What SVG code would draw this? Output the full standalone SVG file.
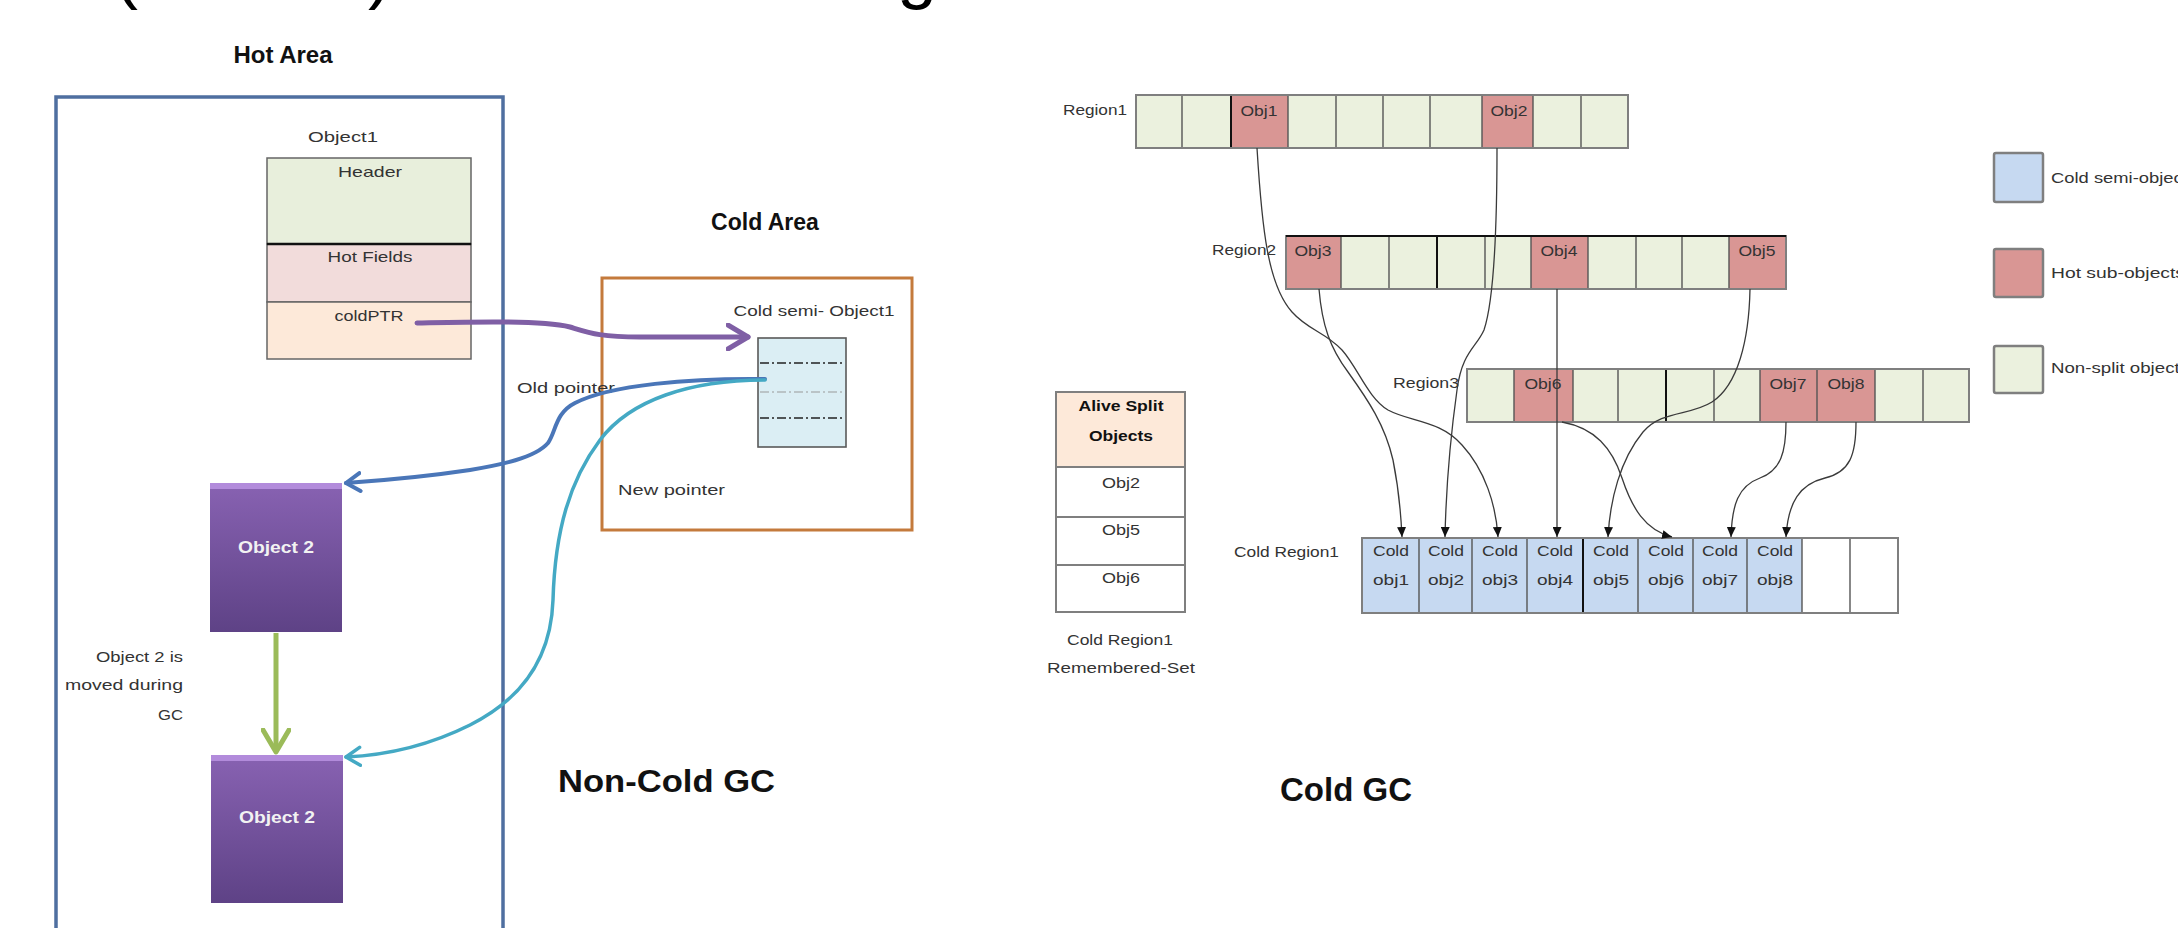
<svg xmlns="http://www.w3.org/2000/svg" width="2178" height="928" viewBox="0 0 2178 928">
<style>
  text { font-family: "Liberation Sans", Arial, sans-serif; fill: #333; }
  .s { font-size: 15px; }
  .sm { font-size: 15px; }
  .b { font-weight: bold; fill: #111; }
  .m { text-anchor: middle; }
  .e { text-anchor: end; }
  .cell { stroke: #555; stroke-width: 1.4; }
  .g { fill: #ebf1de; }
  .r { fill: #d99694; }
  .bl { fill: #c6d9f1; }
  .w { fill: #ffffff; }
  .conn { fill: none; stroke: #3a3a3a; stroke-width: 1.3; marker-end: url(#tri); }
  .lg { stroke: #7f7f7f; stroke-width: 2.5; }
  .obj2 { fill: url(#purp); }
  .otext { fill: #f2f2f2; font-weight: bold; font-size: 16px; text-anchor: middle; }
</style>
<defs>
  <marker id="tri" markerUnits="userSpaceOnUse" markerWidth="10" markerHeight="9" refX="10" refY="4.5" orient="auto">
    <path d="M0,0 L10,4.5 L0,9 z" fill="#111"/>
  </marker>
  <marker id="chevP" markerUnits="userSpaceOnUse" markerWidth="26" markerHeight="28" refX="22" refY="14" orient="auto">
    <path d="M2,2 L22,14 L2,26" fill="none" stroke="#7f5fa5" stroke-width="5" stroke-linecap="round" stroke-linejoin="round"/>
  </marker>
  <marker id="chevB" markerUnits="userSpaceOnUse" markerWidth="20" markerHeight="22" refX="16" refY="11" orient="auto">
    <path d="M2,2 L16,11 L2,20" fill="none" stroke="#4a76b8" stroke-width="4" stroke-linecap="round" stroke-linejoin="round"/>
  </marker>
  <marker id="chevT" markerUnits="userSpaceOnUse" markerWidth="20" markerHeight="22" refX="16" refY="11" orient="auto">
    <path d="M2,2 L16,11 L2,20" fill="none" stroke="#44a9c4" stroke-width="3.5" stroke-linecap="round" stroke-linejoin="round"/>
  </marker>
  <marker id="chevG" markerUnits="userSpaceOnUse" markerWidth="28" markerHeight="30" refX="24" refY="15" orient="auto">
    <path d="M2,2 L24,15 L2,28" fill="none" stroke="#9bbb59" stroke-width="5" stroke-linecap="round" stroke-linejoin="round"/>
  </marker>
  <linearGradient id="purp" x1="0" y1="0" x2="0" y2="1">
    <stop offset="0" stop-color="#8862b2"/>
    <stop offset="1" stop-color="#5e4286"/>
  </linearGradient>
</defs>

<rect width="2178" height="928" fill="#ffffff"/>

<!-- cut-off title fragments at the very top (only their lower parts are in frame) -->
<g id="title-fragment">
  <text x="114" y="-5" style="font-size:72px;fill:#000">(</text>
  <text x="368" y="-5" style="font-size:72px;fill:#000">)</text>
  <text x="897" y="-5" style="font-size:72px;fill:#000">g</text>
</g>

<!-- ============ LEFT: Non-Cold GC ============ -->
<g id="hot-area">
  <text class="b m" x="283" y="63" style="font-size:24px">Hot Area</text>
  <rect x="56" y="97" width="447" height="860" fill="none" stroke="#4f6fa0" stroke-width="3.5"/>
</g>

<g id="object1">
  <text class="s m" x="343" y="142" textLength="70" lengthAdjust="spacingAndGlyphs">Object1</text>
  <rect x="267" y="158" width="204" height="86" fill="#e8efdc" stroke="#666" stroke-width="1.5"/>
  <rect x="267" y="244" width="204" height="58" fill="#f2dcdb" stroke="#666" stroke-width="1.5"/>
  <rect x="267" y="302" width="204" height="57" fill="#fde9d9" stroke="#666" stroke-width="1.5"/>
  <line x1="267" y1="244" x2="471" y2="244" stroke="#111" stroke-width="2.5"/>
  <text class="s m" x="370" y="177" textLength="64" lengthAdjust="spacingAndGlyphs">Header</text>
  <text class="s m" x="370" y="262" textLength="85" lengthAdjust="spacingAndGlyphs">Hot Fields</text>
  <text class="s m" x="369" y="321" textLength="69" lengthAdjust="spacingAndGlyphs">coldPTR</text>
</g>

<g id="cold-area">
  <text class="b m" x="765" y="230" style="font-size:23px">Cold Area</text>
  <rect x="602" y="278" width="310" height="252" fill="none" stroke="#c47a3c" stroke-width="3"/>
  <text class="s m" x="814" y="316" textLength="161" lengthAdjust="spacingAndGlyphs">Cold semi- Object1</text>
  <text class="s" x="618" y="495" textLength="107" lengthAdjust="spacingAndGlyphs">New pointer</text>
</g>

<g id="cold-semi-object1">
  <rect x="758" y="338" width="88" height="109" fill="#dbeef4" stroke="#595959" stroke-width="1.6"/>
  <line x1="760" y1="363" x2="844" y2="363" stroke="#222" stroke-width="1.3" stroke-dasharray="9,3,2,3"/>
  <line x1="760" y1="392" x2="844" y2="392" stroke="#999" stroke-width="1.2" stroke-dasharray="9,3,2,3"/>
  <line x1="760" y1="418" x2="844" y2="418" stroke="#222" stroke-width="1.3" stroke-dasharray="9,3,2,3"/>
</g>

<g id="object2-old">
  <rect class="obj2" x="210" y="483" width="132" height="149"/>
  <rect x="210" y="483" width="132" height="6" fill="#b28bdb"/>
  <text class="otext" x="276" y="553" textLength="76" lengthAdjust="spacingAndGlyphs">Object 2</text>
</g>

<g id="object2-new">
  <rect class="obj2" x="211" y="755" width="132" height="148"/>
  <rect x="211" y="755" width="132" height="6" fill="#b28bdb"/>
  <text class="otext" x="277" y="823" textLength="76" lengthAdjust="spacingAndGlyphs">Object 2</text>
</g>

<g id="left-labels">
  <text class="s" x="517" y="393" textLength="98" lengthAdjust="spacingAndGlyphs">Old pointer</text>
  <text class="s e" x="183" y="662" textLength="87" lengthAdjust="spacingAndGlyphs">Object 2 is</text>
  <text class="s e" x="183" y="690" textLength="118" lengthAdjust="spacingAndGlyphs">moved during</text>
  <text class="s e" x="183" y="720" textLength="25" lengthAdjust="spacingAndGlyphs">GC</text>
  <text class="b" x="558" y="792" style="font-size:32px" textLength="217" lengthAdjust="spacingAndGlyphs">Non-Cold GC</text>
</g>

<g id="left-connectors">
  <path d="M417,323 C470,322 540,320 570,327 C590,333 600,337 640,337 L748,337" fill="none" stroke="#7f5fa5" stroke-width="5" stroke-linecap="round" marker-end="url(#chevP)"/>
  <path d="M765,379 C690,378 610,385 575,403 C555,413 556,432 548,443 C535,458 500,465 470,470 C430,476 390,480 346,483" fill="none" stroke="#4a76b8" stroke-width="4" stroke-linecap="round" marker-end="url(#chevB)"/>
  <path d="M765,380 C690,380 630,400 600,440 C570,480 555,530 553,600 C551,660 520,700 470,725 C430,745 390,755 346,757" fill="none" stroke="#44a9c4" stroke-width="3.5" stroke-linecap="round" marker-end="url(#chevT)"/>
  <path d="M276,633 L276,752" fill="none" stroke="#9bbb59" stroke-width="5" marker-end="url(#chevG)"/>
</g>

<!-- ============ RIGHT: Cold GC ============ -->
<g id="region1">
  <text class="sm" x="1063" y="115" textLength="64" lengthAdjust="spacingAndGlyphs">Region1</text>
  <rect class="g" x="1136" y="95" width="492" height="53"/>
  <rect class="r" x="1231" y="95" width="57" height="53"/>
  <rect class="r" x="1482" y="95" width="51" height="53"/>
  <g class="cell">
    <line x1="1182" y1="95" x2="1182" y2="148"/>
    <line x1="1231" y1="95" x2="1231" y2="148" stroke="#111" stroke-width="2"/>
    <line x1="1288" y1="95" x2="1288" y2="148"/>
    <line x1="1336" y1="95" x2="1336" y2="148"/>
    <line x1="1383" y1="95" x2="1383" y2="148"/>
    <line x1="1430" y1="95" x2="1430" y2="148"/>
    <line x1="1482" y1="95" x2="1482" y2="148"/>
    <line x1="1533" y1="95" x2="1533" y2="148"/>
    <line x1="1581" y1="95" x2="1581" y2="148"/>
  </g>
  <rect x="1136" y="95" width="492" height="53" fill="none" stroke="#7f7f7f" stroke-width="2"/>
  <text class="sm m" x="1259" y="116" textLength="37" lengthAdjust="spacingAndGlyphs">Obj1</text>
  <text class="sm m" x="1509" y="116" textLength="37" lengthAdjust="spacingAndGlyphs">Obj2</text>
</g>

<g id="region2">
  <text class="sm" x="1212" y="255" textLength="64" lengthAdjust="spacingAndGlyphs">Region2</text>
  <rect class="g" x="1286" y="236" width="500" height="53"/>
  <rect class="r" x="1286" y="236" width="55" height="53"/>
  <rect class="r" x="1531" y="236" width="57" height="53"/>
  <rect class="r" x="1729" y="236" width="57" height="53"/>
  <g class="cell">
    <line x1="1341" y1="236" x2="1341" y2="289"/>
    <line x1="1389" y1="236" x2="1389" y2="289"/>
    <line x1="1437" y1="236" x2="1437" y2="289" stroke="#111" stroke-width="2"/>
    <line x1="1485" y1="236" x2="1485" y2="289"/>
    <line x1="1531" y1="236" x2="1531" y2="289"/>
    <line x1="1588" y1="236" x2="1588" y2="289"/>
    <line x1="1636" y1="236" x2="1636" y2="289"/>
    <line x1="1682" y1="236" x2="1682" y2="289"/>
    <line x1="1729" y1="236" x2="1729" y2="289"/>
  </g>
  <rect x="1286" y="236" width="500" height="53" fill="none" stroke="#7f7f7f" stroke-width="2"/>
  <line x1="1286" y1="236" x2="1786" y2="236" stroke="#111" stroke-width="2.2"/>
  <text class="sm m" x="1313" y="256" textLength="37" lengthAdjust="spacingAndGlyphs">Obj3</text>
  <text class="sm m" x="1559" y="256" textLength="37" lengthAdjust="spacingAndGlyphs">Obj4</text>
  <text class="sm m" x="1757" y="256" textLength="37" lengthAdjust="spacingAndGlyphs">Obj5</text>
</g>

<g id="region3">
  <text class="sm" x="1393" y="388" textLength="66" lengthAdjust="spacingAndGlyphs">Region3</text>
  <rect class="g" x="1467" y="369" width="502" height="53"/>
  <rect class="r" x="1514" y="369" width="59" height="53"/>
  <rect class="r" x="1760" y="369" width="57" height="53"/>
  <rect class="r" x="1817" y="369" width="58" height="53"/>
  <g class="cell">
    <line x1="1514" y1="369" x2="1514" y2="422"/>
    <line x1="1573" y1="369" x2="1573" y2="422"/>
    <line x1="1618" y1="369" x2="1618" y2="422"/>
    <line x1="1666" y1="369" x2="1666" y2="422" stroke="#111" stroke-width="2"/>
    <line x1="1714" y1="369" x2="1714" y2="422"/>
    <line x1="1760" y1="369" x2="1760" y2="422"/>
    <line x1="1817" y1="369" x2="1817" y2="422"/>
    <line x1="1875" y1="369" x2="1875" y2="422"/>
    <line x1="1923" y1="369" x2="1923" y2="422"/>
  </g>
  <rect x="1467" y="369" width="502" height="53" fill="none" stroke="#7f7f7f" stroke-width="2"/>
  <text class="sm m" x="1543" y="389" textLength="37" lengthAdjust="spacingAndGlyphs">Obj6</text>
  <text class="sm m" x="1788" y="389" textLength="37" lengthAdjust="spacingAndGlyphs">Obj7</text>
  <text class="sm m" x="1846" y="389" textLength="37" lengthAdjust="spacingAndGlyphs">Obj8</text>
</g>

<g id="cold-region1">
  <text class="sm" x="1234" y="557" textLength="105" lengthAdjust="spacingAndGlyphs">Cold Region1</text>
  <rect class="w" x="1362" y="538" width="536" height="75"/>
  <rect class="bl" x="1362" y="538" width="440" height="75"/>
  <g class="cell">
    <line x1="1419" y1="538" x2="1419" y2="613"/>
    <line x1="1472" y1="538" x2="1472" y2="613"/>
    <line x1="1527" y1="538" x2="1527" y2="613"/>
    <line x1="1583" y1="538" x2="1583" y2="613" stroke="#111" stroke-width="2"/>
    <line x1="1638" y1="538" x2="1638" y2="613"/>
    <line x1="1693" y1="538" x2="1693" y2="613"/>
    <line x1="1747" y1="538" x2="1747" y2="613"/>
    <line x1="1802" y1="538" x2="1802" y2="613"/>
    <line x1="1850" y1="538" x2="1850" y2="613"/>
  </g>
  <rect x="1362" y="538" width="536" height="75" fill="none" stroke="#7f7f7f" stroke-width="2"/>
  <g>
    <text class="sm m" x="1391" y="556" textLength="36" lengthAdjust="spacingAndGlyphs">Cold</text><text class="sm m" x="1391" y="585" textLength="36" lengthAdjust="spacingAndGlyphs">obj1</text>
    <text class="sm m" x="1446" y="556" textLength="36" lengthAdjust="spacingAndGlyphs">Cold</text><text class="sm m" x="1446" y="585" textLength="36" lengthAdjust="spacingAndGlyphs">obj2</text>
    <text class="sm m" x="1500" y="556" textLength="36" lengthAdjust="spacingAndGlyphs">Cold</text><text class="sm m" x="1500" y="585" textLength="36" lengthAdjust="spacingAndGlyphs">obj3</text>
    <text class="sm m" x="1555" y="556" textLength="36" lengthAdjust="spacingAndGlyphs">Cold</text><text class="sm m" x="1555" y="585" textLength="36" lengthAdjust="spacingAndGlyphs">obj4</text>
    <text class="sm m" x="1611" y="556" textLength="36" lengthAdjust="spacingAndGlyphs">Cold</text><text class="sm m" x="1611" y="585" textLength="36" lengthAdjust="spacingAndGlyphs">obj5</text>
    <text class="sm m" x="1666" y="556" textLength="36" lengthAdjust="spacingAndGlyphs">Cold</text><text class="sm m" x="1666" y="585" textLength="36" lengthAdjust="spacingAndGlyphs">obj6</text>
    <text class="sm m" x="1720" y="556" textLength="36" lengthAdjust="spacingAndGlyphs">Cold</text><text class="sm m" x="1720" y="585" textLength="36" lengthAdjust="spacingAndGlyphs">obj7</text>
    <text class="sm m" x="1775" y="556" textLength="36" lengthAdjust="spacingAndGlyphs">Cold</text><text class="sm m" x="1775" y="585" textLength="36" lengthAdjust="spacingAndGlyphs">obj8</text>
  </g>
</g>

<g id="remembered-set">
  <rect x="1056" y="392" width="129" height="75" fill="#fde9d9" stroke="#7f7f7f" stroke-width="2"/>
  <rect x="1056" y="467" width="129" height="50" fill="#fff" stroke="#7f7f7f" stroke-width="2"/>
  <rect x="1056" y="517" width="129" height="48" fill="#fff" stroke="#7f7f7f" stroke-width="2"/>
  <rect x="1056" y="565" width="129" height="47" fill="#fff" stroke="#7f7f7f" stroke-width="2"/>
  <text class="sm b m" x="1121" y="411" textLength="85" lengthAdjust="spacingAndGlyphs">Alive Split</text>
  <text class="sm b m" x="1121" y="441" textLength="64" lengthAdjust="spacingAndGlyphs">Objects</text>
  <text class="sm m" x="1121" y="488" textLength="38" lengthAdjust="spacingAndGlyphs">Obj2</text>
  <text class="sm m" x="1121" y="535" textLength="38" lengthAdjust="spacingAndGlyphs">Obj5</text>
  <text class="sm m" x="1121" y="583" textLength="38" lengthAdjust="spacingAndGlyphs">Obj6</text>
  <text class="sm m" x="1120" y="645" textLength="106" lengthAdjust="spacingAndGlyphs">Cold Region1</text>
  <text class="sm m" x="1121" y="673" textLength="148" lengthAdjust="spacingAndGlyphs">Remembered-Set</text>
</g>

<g id="legend">
  <rect class="lg bl" x="1994" y="153" width="49" height="49" rx="2"/>
  <text class="s" x="2051" y="183" textLength="146" lengthAdjust="spacingAndGlyphs">Cold semi-objects</text>
  <rect class="lg r" x="1994" y="249" width="49" height="48" rx="2"/>
  <text class="s" x="2051" y="278" textLength="134" lengthAdjust="spacingAndGlyphs">Hot sub-objects</text>
  <rect class="lg g" x="1994" y="346" width="49" height="47" rx="2"/>
  <text class="s" x="2051" y="373" textLength="138" lengthAdjust="spacingAndGlyphs">Non-split objects</text>
</g>

<g id="cold-gc-title">
  <text class="b" x="1280" y="801" style="font-size:33px" textLength="132" lengthAdjust="spacingAndGlyphs">Cold GC</text>
</g>

<g id="right-connectors">
  <path class="conn" d="M1257,148 C1262,230 1268,285 1292,312 C1308,330 1325,332 1342,350 C1358,368 1368,398 1388,410 C1410,422 1440,420 1462,445 C1485,470 1496,505 1498,537"/>
  <path class="conn" d="M1319,289 C1322,325 1330,348 1348,372 C1368,400 1385,425 1393,460 C1399,490 1401,515 1402,537"/>
  <path class="conn" d="M1497,148 C1497,230 1494,300 1484,330 C1476,348 1462,352 1457,390 C1450,440 1446,490 1445,537"/>
  <path class="conn" d="M1557,289 L1557,537"/>
  <path class="conn" d="M1750,289 C1749,340 1738,385 1712,402 C1690,416 1662,410 1643,432 C1620,460 1610,500 1608,537"/>
  <path class="conn" d="M1562,422 C1595,428 1612,448 1622,478 C1632,508 1645,530 1672,537"/>
  <path class="conn" d="M1786,422 C1786,452 1781,470 1760,478 C1738,486 1732,505 1731,537"/>
  <path class="conn" d="M1856,422 C1856,455 1850,472 1825,478 C1800,484 1788,502 1786,537"/>
</g>
</svg>
